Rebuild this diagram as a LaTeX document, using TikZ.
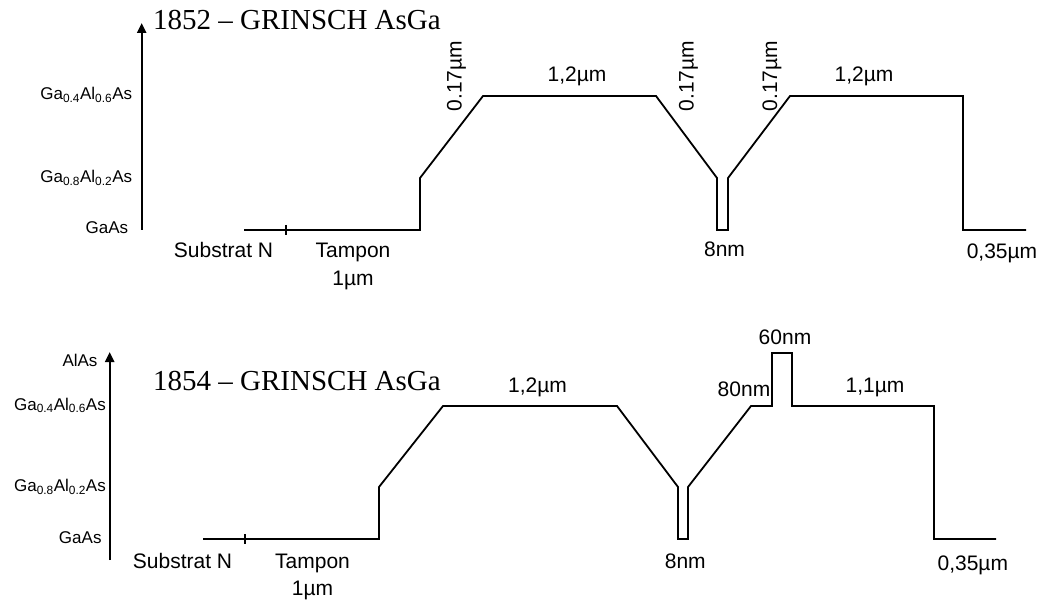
\documentclass[tikz,border=0pt]{standalone}
\usepackage{fontspec}
\setmainfont{Liberation Serif}
\newfontfamily\labfont{Liberation Sans}
\usetikzlibrary{arrows.meta}
\begin{document}
\begin{tikzpicture}[x=1pt,y=-1pt,
  curve/.style={line width=1.8pt, line join=miter},
  ticklin/.style={line width=1.3pt},
  axisline/.style={line width=2.4pt, -{Triangle[length=10pt,width=9pt]}},
  lvl/.style={inner sep=0pt, anchor=base east, font=\labfont\fontsize{17}{20}\selectfont},
  lbl/.style={inner sep=0pt, anchor=base, font=\labfont\fontsize{21}{25}\selectfont},
  vlbl/.style={lbl, rotate=90},
  ttl/.style={inner sep=0pt, anchor=base west, font=\fontsize{29}{34}\selectfont}]
\fill[white] (0,0) rectangle (1048,601);
\useasboundingbox (0,0) rectangle (1048,601);

% ---------------- top diagram ----------------
\node[ttl] (t1) at (153,29.3) {1852 – GRINSCH AsGa};
\coordinate (a1b) at (141.7,230);
\coordinate (a1t) at (141.7,23);
\draw[axisline] (a1b) -- (a1t);
\node[lvl] (l1a) at (132.3,100) {Ga\textsubscript{0.4}Al\textsubscript{0.6}As};
\node[lvl] (l1b) at (132.3,183) {Ga\textsubscript{0.8}Al\textsubscript{0.2}As};
\node[lvl] (l1c) at (128.3,234) {GaAs};

\coordinate (p1) at (244,230);
\coordinate (p2) at (420,230);
\coordinate (p3) at (420,178);
\coordinate (p4) at (483,96);
\coordinate (p5) at (656,96);
\coordinate (p6) at (717,178);
\coordinate (p7) at (717,230);
\coordinate (p8) at (728,230);
\coordinate (p9) at (728,178);
\coordinate (p10) at (790,96);
\coordinate (p11) at (963,96);
\coordinate (p12) at (963,230);
\coordinate (p13) at (1026,230);
\draw[curve] (p1) -- (p2) -- (p3) -- (p4) -- (p5) -- (p6) -- (p7) -- (p8) -- (p9) -- (p10) -- (p11) -- (p12) -- (p13);
\coordinate (k1a) at (286,225);
\coordinate (k1b) at (286,235);
\draw[ticklin] (k1a) -- (k1b);

\node[lbl] (s1) at (223.5,258) {Substrat N};
\node[lbl] (tp1) at (353,258) {Tampon};
\node[lbl] (u1) at (353,285) {1µm};
\node[vlbl] (v1a) at (461.5,76) {0.17µm};
\node[lbl] (w1a) at (577,82) {1,2µm};
\node[vlbl] (v1b) at (693.5,76) {0.17µm};
\node[vlbl] (v1c) at (777,76) {0.17µm};
\node[lbl] (w1b) at (864,82) {1,2µm};
\node[lbl] (n1) at (724.5,257) {8nm};
\node[lbl] (e1) at (1002,259) {0,35µm};

% ---------------- bottom diagram ----------------
\node[ttl] (t2) at (153,390) {1854 – GRINSCH AsGa};
\coordinate (a2b) at (109.7,560);
\coordinate (a2t) at (109.7,352);
\draw[axisline] (a2b) -- (a2t);
\node[lvl] (l2o) at (97.7,366.7) {AlAs};
\node[lvl] (l2a) at (106,410) {Ga\textsubscript{0.4}Al\textsubscript{0.6}As};
\node[lvl] (l2b) at (106,491.7) {Ga\textsubscript{0.8}Al\textsubscript{0.2}As};
\node[lvl] (l2c) at (101.7,543.3) {GaAs};

\coordinate (q1) at (203,539);
\coordinate (q2) at (379,539);
\coordinate (q3) at (379,487);
\coordinate (q4) at (443,406);
\coordinate (q5) at (617,406);
\coordinate (q6) at (678,487);
\coordinate (q7) at (678,539);
\coordinate (q8) at (688,539);
\coordinate (q9) at (688,487);
\coordinate (q10) at (751,406);
\coordinate (q11) at (772,406);
\coordinate (q12) at (772,353);
\coordinate (q13) at (792,353);
\coordinate (q14) at (792,406);
\coordinate (q15) at (934,406);
\coordinate (q16) at (934,539);
\coordinate (q17) at (996,539);
\draw[curve] (q1) -- (q2) -- (q3) -- (q4) -- (q5) -- (q6) -- (q7) -- (q8) -- (q9) -- (q10) -- (q11) -- (q12) -- (q13) -- (q14) -- (q15) -- (q16) -- (q17);
\coordinate (k2a) at (245,534);
\coordinate (k2b) at (245,544);
\draw[ticklin] (k2a) -- (k2b);

\node[lbl] (s2) at (182.5,568) {Substrat N};
\node[lbl] (tp2) at (312.5,568) {Tampon};
\node[lbl] (u2) at (312.5,595) {1µm};
\node[lbl] (w2a) at (537.5,392) {1,2µm};
\node[lbl] (m80) at (744,396.5) {80nm};
\node[lbl] (m60) at (785,344) {60nm};
\node[lbl] (w2b) at (875,392) {1,1µm};
\node[lbl] (n2) at (685.3,568) {8nm};
\node[lbl] (e2) at (972.8,570.5) {0,35µm};
\end{tikzpicture}
\end{document}
